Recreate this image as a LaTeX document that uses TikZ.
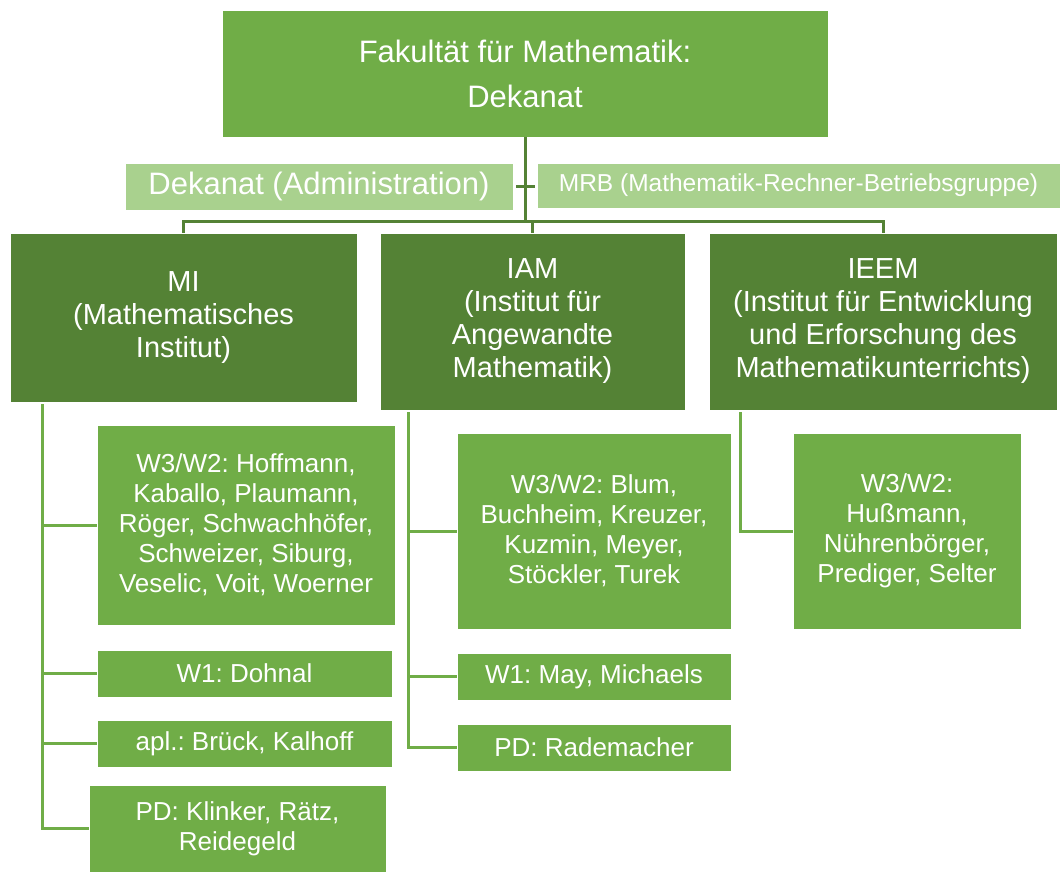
\documentclass[tikz,border=0pt]{standalone}
\usepackage{fontspec}
\setmainfont{Liberation Sans}
\usepackage{tikz}
\usetikzlibrary{calc}
\usepackage{xcolor}
\definecolor{facgreen}{RGB}{112,173,71}
\definecolor{facdark}{RGB}{84,130,53}
\definecolor{faclight}{RGB}{169,209,142}
\frenchspacing

\begin{document}
\begin{tikzpicture}[x=1pt, y=-1pt,
    box/.style={draw=white, line width=0.8pt, inner sep=0pt, align=center, text=white},
    headbox/.style={box, fill=facgreen, font=\fontsize{31}{45}\selectfont},
    sidebox/.style={box, fill=faclight},
    instbox/.style={box, fill=facdark, font=\fontsize{29}{33}\selectfont},
    leafbox/.style={box, fill=facgreen, font=\fontsize{26}{30}\selectfont},
    link/.style={line width=3pt, facdark},
    sublink/.style={line width=3pt, facgreen}
]
\useasboundingbox (0,0) rectangle (1064,873);

% Dean's office and staff units
\node[headbox, minimum width=606, minimum height=127] (dekan) at (525,73.5) {Fakultät für Mathematik:\\Dekanat};
\node[sidebox, minimum width=388, minimum height=47, font=\fontsize{31}{36}\selectfont] (admin) at (319,186.5) {Dekanat (Administration)};
\node[sidebox, minimum width=523, minimum height=45, font=\fontsize{24.5}{29}\selectfont] (mrb) at (798.5,185.5) {MRB (Mathematik-Rechner-Betriebsgruppe)};

% Three institutes
\node[instbox, minimum width=347, minimum height=169] (mi) at (183.5,317.5) {MI\\(Mathematisches\\Institut)};
\node[instbox, minimum width=305, minimum height=177] (iam) at (532.5,321.5) {IAM\\(Institut für\\Angewandte\\Mathematik)};
\node[instbox, minimum width=348, minimum height=177] (ieem) at (883,321.5) {IEEM\\(Institut für Entwicklung\\und Erforschung des\\Mathematikunterrichts)};

% MI staff
\node[leafbox, minimum width=298, minimum height=200] (mi1) at (246,525) {W3/W2: Hoffmann,\\Kaballo, Plaumann,\\Röger, Schwachhöfer,\\Schweizer, Siburg,\\Veselic, Voit, Woerner};
\node[leafbox, minimum width=295, minimum height=47] (mi2) at (244.5,673.5) {W1: Dohnal};
\node[leafbox, minimum width=295, minimum height=47] (mi3) at (244.5,743.5) {apl.: Brück, Kalhoff};
\node[leafbox, minimum width=297, minimum height=87] (mi4) at (237.5,828.5) {PD: Klinker, Rätz,\\Reidegeld};

% IAM staff
\node[leafbox, minimum width=274, minimum height=196] (iam1) at (594,531) {W3/W2: Blum,\\Buchheim, Kreuzer,\\Kuzmin, Meyer,\\Stöckler, Turek};
\node[leafbox, minimum width=274, minimum height=47] (iam2) at (594,676.5) {W1: May, Michaels};
\node[leafbox, minimum width=274, minimum height=47] (iam3) at (594,747.5) {PD: Rademacher};

% IEEM staff
\node[leafbox, minimum width=228, minimum height=196] (ieem1) at (907,531) {W3/W2:\\Hußmann,\\Nührenbörger,\\Prediger, Selter};

% Top connectors
\coordinate (bus) at (0,221);
\draw[link] (dekan.south) -- (dekan.south |- bus);
\draw[link] (mi.north) -- (mi.north |- bus) -- (ieem.north |- bus) -- (ieem.north);
\draw[link] (iam.north) -- (iam.north |- bus);
\draw[link] ([xshift=3]admin.east) -- ([xshift=-2]admin.east -| mrb.west);

% Spines down to the staff boxes
\coordinate (mispine) at ($(mi.south west)+(33,2)$);
\coordinate (iamspine) at ($(iam.south west)+(29,2)$);
\coordinate (ieemspine) at ($(ieem.south west)+(32,2)$);
\draw[sublink] (mispine) |- (mi1.west);
\draw[sublink] (mispine) |- (mi2.west);
\draw[sublink] (mispine) |- (mi3.west);
\draw[sublink] (mispine) |- (mi4.west);
\draw[sublink] (iamspine) |- (iam1.west);
\draw[sublink] (iamspine) |- (iam2.west);
\draw[sublink] (iamspine) |- (iam3.west);
\draw[sublink] (ieemspine) |- (ieem1.west);

\end{tikzpicture}
\end{document}
